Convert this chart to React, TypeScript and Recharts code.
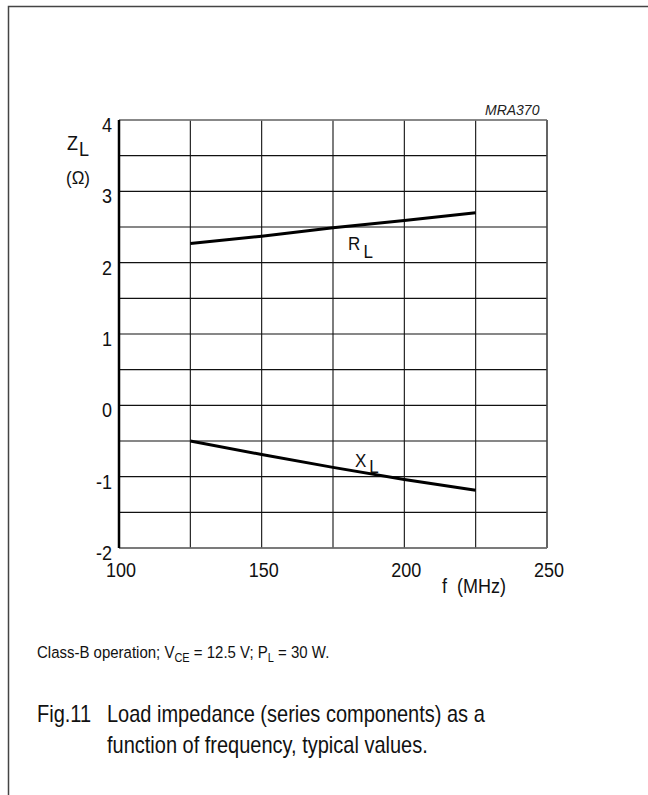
import React from 'react';
import { LineChart, Line, XAxis, YAxis, CartesianGrid, ReferenceDot, ReferenceLine } from 'recharts';

const FONT = '"Liberation Sans", Arial, Helvetica, sans-serif';

// frequency f (MHz)
const frequencies = [125, 150, 175, 200, 225];
// R_L series (ohm)
const rlValues = [2.27, 2.37, 2.49, 2.59, 2.7];
// X_L series (ohm)
const xlValues = [-0.5, -0.69, -0.87, -1.04, -1.19];

const xTicks = [100, 125, 150, 175, 200, 225, 250];
const xTickLabels = [100, 150, 200, 250];
const yTicks = [-2, -1.5, -1, -0.5, 0, 0.5, 1, 1.5, 2, 2.5, 3, 3.5, 4];
const yTickLabels = [-2, -1, 0, 1, 2, 3, 4];

const data = frequencies.map((f, i) => ({ f, rl: rlValues[i], xl: xlValues[i] }));

const ST = (props: any) => {
  const { x, y, k = 1.1, children, ...rest } = props;
  return (
    <text transform={`translate(${x},${y}) scale(1,${k})`} x={0} y={0} fontFamily={FONT} fill="#111" {...rest}>
      {children}
    </text>
  );
};

const XTick = (props: any) => {
  const { x, y, payload } = props;
  if (!xTickLabels.includes(payload.value)) return null;
  return (
    <ST x={x + 2} y={y + 21} k={1.1} textAnchor="middle" fontSize={18}>
      {payload.value}
    </ST>
  );
};

const YTick = (props: any) => {
  const { x, y, payload } = props;
  if (!yTickLabels.includes(payload.value)) return null;
  return (
    <ST x={x + 1} y={y + 12} k={1.1} textAnchor="end" fontSize={18}>
      {payload.value}
    </ST>
  );
};

const SubLabel = (props: any) => {
  const { viewBox, main, sub, subDy } = props;
  const vb = viewBox || {};
  const x = (vb.x || 0) + (vb.width || 0) / 2;
  const y = (vb.y || 0) + (vb.height || 0) / 2;
  return (
    <ST x={x} y={y} k={1.1} fontSize={17}>
      <tspan>{main}</tspan>
      <tspan dx={3} dy={subDy}>{sub}</tspan>
    </ST>
  );
};

export default function App() {
  return (
    <div style={{ position: 'absolute', left: 0, top: 0, width: 648, height: 795, background: '#fff' }}>
      <LineChart
        width={648}
        height={795}
        data={data}
        margin={{ top: 120, right: 101, bottom: 207, left: 79 }}
      >
        <CartesianGrid stroke="#111" strokeWidth={1.1} />
        <XAxis
          dataKey="f"
          type="number"
          domain={[100, 250]}
          ticks={xTicks}
          interval={0}
          height={40}
          tickLine={false}
          axisLine={{ stroke: '#777', strokeWidth: 1.5 }}
          tick={<XTick />}
        />
        <YAxis
          type="number"
          domain={[-2, 4]}
          ticks={yTicks}
          interval={0}
          width={40}
          tickLine={false}
          axisLine={{ stroke: '#000', strokeWidth: 2.5 }}
          tick={<YTick />}
        />
        <ReferenceLine y={4} stroke="#888" strokeWidth={1.5} />
        <ReferenceLine x={250} stroke="#555" strokeWidth={1.2} />
        <Line dataKey="rl" type="linear" stroke="#000" strokeWidth={3} dot={false} isAnimationActive={false} />
        <Line dataKey="xl" type="linear" stroke="#000" strokeWidth={3} dot={false} isAnimationActive={false} />
        <ReferenceDot x={180.3} y={2.18} r={0} fill="none" stroke="none" label={<SubLabel main="R" sub="L" subDy={7} />} />
        <ReferenceDot x={182.7} y={-0.87} r={0} fill="none" stroke="none" label={<SubLabel main="X" sub="L" subDy={5} />} />
      </LineChart>
      <svg width={648} height={795} style={{ position: 'absolute', left: 0, top: 0, pointerEvents: 'none' }}>
        <rect x={8.5} y={6.5} width={800} height={900} fill="none" stroke="#444" strokeWidth={1.5} />
        <ST x={485} y={115} k={1.05} fontSize={14} fontStyle="italic" fill="#222">MRA370</ST>
        <ST x={67} y={150} k={1.1} fontSize={18}>
          <tspan>Z</tspan>
          <tspan dx={1} dy={5}>L</tspan>
        </ST>
        <ST x={66} y={184} k={1.1} fontSize={17}>(Ω)</ST>
        <ST x={442} y={593} k={1.1} fontSize={18} xmlSpace="preserve">f  (MHz)</ST>
        <ST x={37} y={658} k={1.12} fontSize={15}>
          <tspan>Class-B operation; V</tspan>
          <tspan fontSize={11} dy={4}>CE</tspan>
          <tspan dy={-4}> = 12.5 V; P</tspan>
          <tspan fontSize={11} dy={4}>L</tspan>
          <tspan dy={-4}> = 30 W.</tspan>
        </ST>
        <ST x={37} y={722} k={1.2} fontSize={20}>Fig.11</ST>
        <ST x={107} y={722} k={1.2} fontSize={20}>Load impedance (series components) as a</ST>
        <ST x={107} y={753} k={1.2} fontSize={20}>function of frequency, typical values.</ST>
      </svg>
    </div>
  );
}
